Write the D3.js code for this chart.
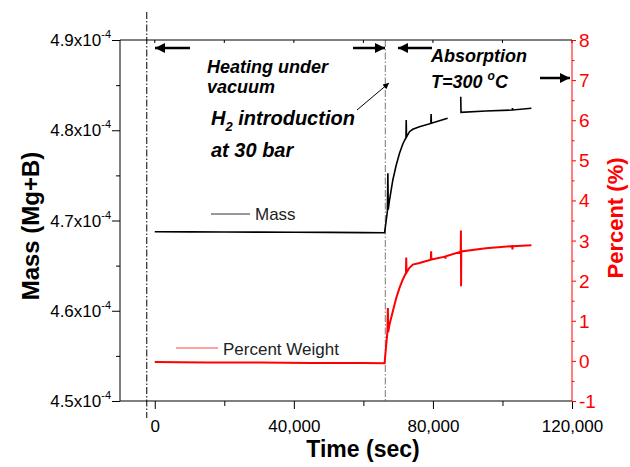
<!DOCTYPE html>
<html>
<head>
<meta charset="utf-8">
<script src="https://cdn.jsdelivr.net/npm/d3@7"></script>
<style>
  html, body { margin: 0; padding: 0; background: #fff; }
  svg { display: block; font-family: "Liberation Sans", Arial, sans-serif; }
</style>
</head>
<body>
<svg id="chart" width="630" height="467"></svg>
<script>
// ---------------- data ----------------
const massTime = [0, 10000, 20000, 30000, 40000, 50000, 60000, 66100, 66570, 66900, 67040, 67150, 67520,
  68470, 69450, 70390, 71340, 72250, 72320, 72400, 73260, 74210, 76120, 79400, 79480, 79560, 81860, 84240,
  86000, 88000, 88080, 95250, 102800, 102880, 102960, 108330];
const massValue = [4.6875, 4.6874, 4.6872, 4.6871, 4.6869, 4.6868, 4.6866, 4.6865, 4.7005, 4.7100, 4.7523, 4.7120, 4.7227,
  4.7449, 4.7615, 4.7745, 4.7848, 4.7918, 4.8113, 4.7925, 4.7984, 4.8011, 4.8039, 4.8075, 4.8180, 4.8078, 4.8106, 4.8132,
  null, 4.8372, 4.8199, 4.8213, 4.8224, 4.8245, 4.8225, 4.8243]; // x10^-4

const pctTime = [0, 15000, 30000, 45000, 60000, 66100, 66570, 66900, 67040, 67150, 67520, 68470, 69450, 70390,
  71340, 72250, 72320, 72400, 73260, 74210, 76120, 79400, 79480, 79560, 83500, 83600, 83700, 88000, 88050, 88100,
  88150, 95250, 102800, 102880, 102960, 108330];
const pctValue = [-0.03, -0.04, -0.04, -0.05, -0.05, -0.06, 0.41, 0.70, 1.32, 0.72, 0.91, 1.24, 1.57, 1.82,
  2.03, 2.19, 2.58, 2.20, 2.32, 2.40, 2.44, 2.52, 2.73, 2.53, 2.60, 2.55, 2.61, 2.72, 3.25, 1.86,
  2.73, 2.81, 2.86, 2.78, 2.86, 2.88];

const xMajorTicks = [0, 40000, 80000, 120000];
const massTicks = [4.5, 4.6, 4.7, 4.8, 4.9];   // x10^-4
const pctTicks = [-1, 0, 1, 2, 3, 4, 5, 6, 7, 8];
const eventTimes = [-2300, 66300];

// ---------------- layout ----------------
const svg = d3.select("#chart");
const L = 120, R = 572, T = 40, B = 401;
const x = d3.scaleLinear().domain([-10000, 120000]).range([L, R]);
const yM = d3.scaleLinear().domain([4.5, 4.9]).range([B, T]);
const yP = d3.scaleLinear().domain([-1, 8]).range([B, T]);

// event lines (dash-dot)
svg.append("line").attr("x1", x(eventTimes[0])).attr("x2", x(eventTimes[0]))
  .attr("y1", 12).attr("y2", 418).attr("stroke", "#000").attr("stroke-width", 1)
  .attr("stroke-dasharray", "7,2,1.5,2");
svg.append("line").attr("x1", x(eventTimes[1])).attr("x2", x(eventTimes[1]))
  .attr("y1", T).attr("y2", B).attr("stroke", "#777").attr("stroke-width", 1)
  .attr("stroke-dasharray", "7,2,1.5,2");

// bottom axis
const xAxis = d3.axisBottom(x).tickValues(d3.range(0, 120001, 20000))
  .tickSize(0).tickFormat(d => xMajorTicks.includes(d) ? d3.format(",")(d) : "");
const gx = svg.append("g").attr("transform", `translate(0,${B})`).call(xAxis);
gx.select(".domain").remove();
gx.selectAll(".tick line").remove();
gx.selectAll(".tick").append("line").attr("y1", 0)
  .attr("y2", d => xMajorTicks.includes(d) ? 8 : 5).attr("stroke", "#000");
gx.selectAll(".tick text").attr("y", 31).attr("dy", 0).attr("font-size", 17)
  .attr("fill", "#000").attr("font-family", "Liberation Sans, Arial, sans-serif");

// top axis ticks
const gt = svg.append("g");
gt.selectAll("line").data(d3.range(0, 120001, 20000)).join("line")
  .attr("x1", d => x(d)).attr("x2", d => x(d)).attr("y1", T).attr("y2", T + 3).attr("stroke", "#000");

// left axis
const gy = svg.append("g").attr("transform", `translate(${L},0)`)
  .call(d3.axisLeft(yM).tickValues(d3.range(4.5, 4.9001, 0.05)).tickSize(0).tickFormat(""));
gy.select(".domain").remove();
gy.selectAll(".tick line").remove();
gy.selectAll(".tick").append("line")
  .attr("x1", d => Math.abs(Math.round(d * 10) - d * 10) < 1e-6 ? -8 : -4).attr("x2", 0).attr("stroke", "#000");
const ml = svg.append("g");
massTicks.forEach(v => {
  const t = ml.append("text").attr("x", 111).attr("y", yM(v) + 6).attr("text-anchor", "end")
    .attr("font-size", 17).attr("fill", "#000");
  t.append("tspan").text(v.toFixed(1) + "x10");
  t.append("tspan").attr("dy", -8).attr("font-size", 11).text("-4");
});

// right axis (red)
const gr = svg.append("g").attr("transform", `translate(${R},0)`)
  .call(d3.axisRight(yP).tickValues(d3.range(-1, 8.001, 0.5)).tickSize(0).tickFormat(""));
gr.select(".domain").remove();
gr.selectAll(".tick line").remove();
gr.selectAll(".tick").append("line")
  .attr("x1", 0).attr("x2", d => Number.isInteger(d) ? 4 : 2.5).attr("stroke", "#f00");
svg.append("g").selectAll("text").data(pctTicks).join("text")
  .attr("x", 579).attr("y", d => yP(d) + 7).attr("font-size", 19).attr("fill", "#f00").text(d => d);

// frame
svg.append("line").attr("x1", L).attr("x2", L).attr("y1", T).attr("y2", B).attr("stroke", "#000");
svg.append("line").attr("x1", L).attr("x2", R).attr("y1", T).attr("y2", T).attr("stroke", "#000");
svg.append("line").attr("x1", L).attr("x2", R).attr("y1", B).attr("y2", B).attr("stroke", "#000");
svg.append("line").attr("x1", R).attr("x2", R).attr("y1", T).attr("y2", B).attr("stroke", "#f00");

// data lines
const massData = massTime.map((t, i) => ({ t, v: massValue[i] }));
const pctData = pctTime.map((t, i) => ({ t, v: pctValue[i] }));
svg.append("path").datum(pctData)
  .attr("d", d3.line().x(d => x(d.t)).y(d => yP(d.v)))
  .attr("fill", "none").attr("stroke", "#f00").attr("stroke-width", 2);
svg.append("path").datum(massData)
  .attr("d", d3.line().defined(d => d.v !== null).x(d => x(d.t)).y(d => yM(d.v)))
  .attr("fill", "none").attr("stroke", "#000").attr("stroke-width", 1.6);

// legend
svg.append("line").attr("x1", 211).attr("x2", 250).attr("y1", 214).attr("y2", 214).attr("stroke", "#333");
svg.append("text").attr("x", 255).attr("y", 220).attr("font-size", 17).attr("fill", "#222").text("Mass");
svg.append("line").attr("x1", 176).attr("x2", 218).attr("y1", 348).attr("y2", 348).attr("stroke", "#f44");
svg.append("text").attr("x", 223).attr("y", 355).attr("font-size", 17).attr("fill", "#222").text("Percent Weight");

// arrow marker
const defs = svg.append("defs");
defs.append("marker").attr("id", "ah").attr("viewBox", "0 0 10 10").attr("refX", 10).attr("refY", 5)
  .attr("markerWidth", 16).attr("markerHeight", 10).attr("markerUnits", "userSpaceOnUse").attr("orient", "auto")
  .append("path").attr("d", "M0,0 L10,5 L0,10 Z").attr("fill", "#000");
defs.append("marker").attr("id", "ahs").attr("viewBox", "0 0 10 10").attr("refX", 10).attr("refY", 5)
  .attr("markerWidth", 8).attr("markerHeight", 6).attr("markerUnits", "userSpaceOnUse").attr("orient", "auto")
  .append("path").attr("d", "M0,0 L10,5 L0,10 Z").attr("fill", "#000");

function arrow(x1, y1, x2, y2, w, m) {
  svg.append("line").attr("x1", x1).attr("y1", y1).attr("x2", x2).attr("y2", y2)
    .attr("stroke", "#000").attr("stroke-width", w).attr("marker-end", `url(#${m})`);
}
arrow(190, 48, 155, 48, 2.5, "ah");
arrow(353, 48, 385, 48, 2.5, "ah");
arrow(432, 48, 398, 48, 2.5, "ah");
arrow(540, 78, 570, 78, 2.5, "ah");
arrow(357, 110, 389, 83, 1, "ahs");

// annotation texts
const ann = svg.append("g").attr("font-weight", "bold").attr("font-style", "italic").attr("fill", "#000");
ann.append("text").attr("x", 207).attr("y", 73).attr("font-size", 18).text("Heating under");
ann.append("text").attr("x", 207).attr("y", 93).attr("font-size", 18).text("vacuum");
const h2 = ann.append("text").attr("x", 211).attr("y", 125).attr("font-size", 20);
h2.append("tspan").text("H");
h2.append("tspan").attr("dy", 6).attr("font-size", 13).text("2");
h2.append("tspan").attr("dy", -6).text(" introduction");
ann.append("text").attr("x", 211).attr("y", 157).attr("font-size", 20).text("at 30 bar");
ann.append("text").attr("x", 431).attr("y", 62).attr("font-size", 18).text("Absorption");
const tt = ann.append("text").attr("x", 431).attr("y", 88).attr("font-size", 18);
tt.append("tspan").text("T=300 ");
tt.append("tspan").attr("dy", -8).attr("font-size", 12).text("o");
tt.append("tspan").attr("dy", 8).text("C");

// axis titles
svg.append("text").attr("x", 363).attr("y", 457).attr("text-anchor", "middle")
  .attr("font-size", 23).attr("font-weight", "bold").text("Time (sec)");
svg.append("text").attr("transform", "translate(39,226) rotate(-90)").attr("text-anchor", "middle")
  .attr("font-size", 24).attr("font-weight", "bold").text("Mass (Mg+B)");
svg.append("text").attr("transform", "translate(623,218) rotate(-90)").attr("text-anchor", "middle")
  .attr("font-size", 22).attr("font-weight", "bold").attr("fill", "#f00").text("Percent (%)");
</script>
</body>
</html>
